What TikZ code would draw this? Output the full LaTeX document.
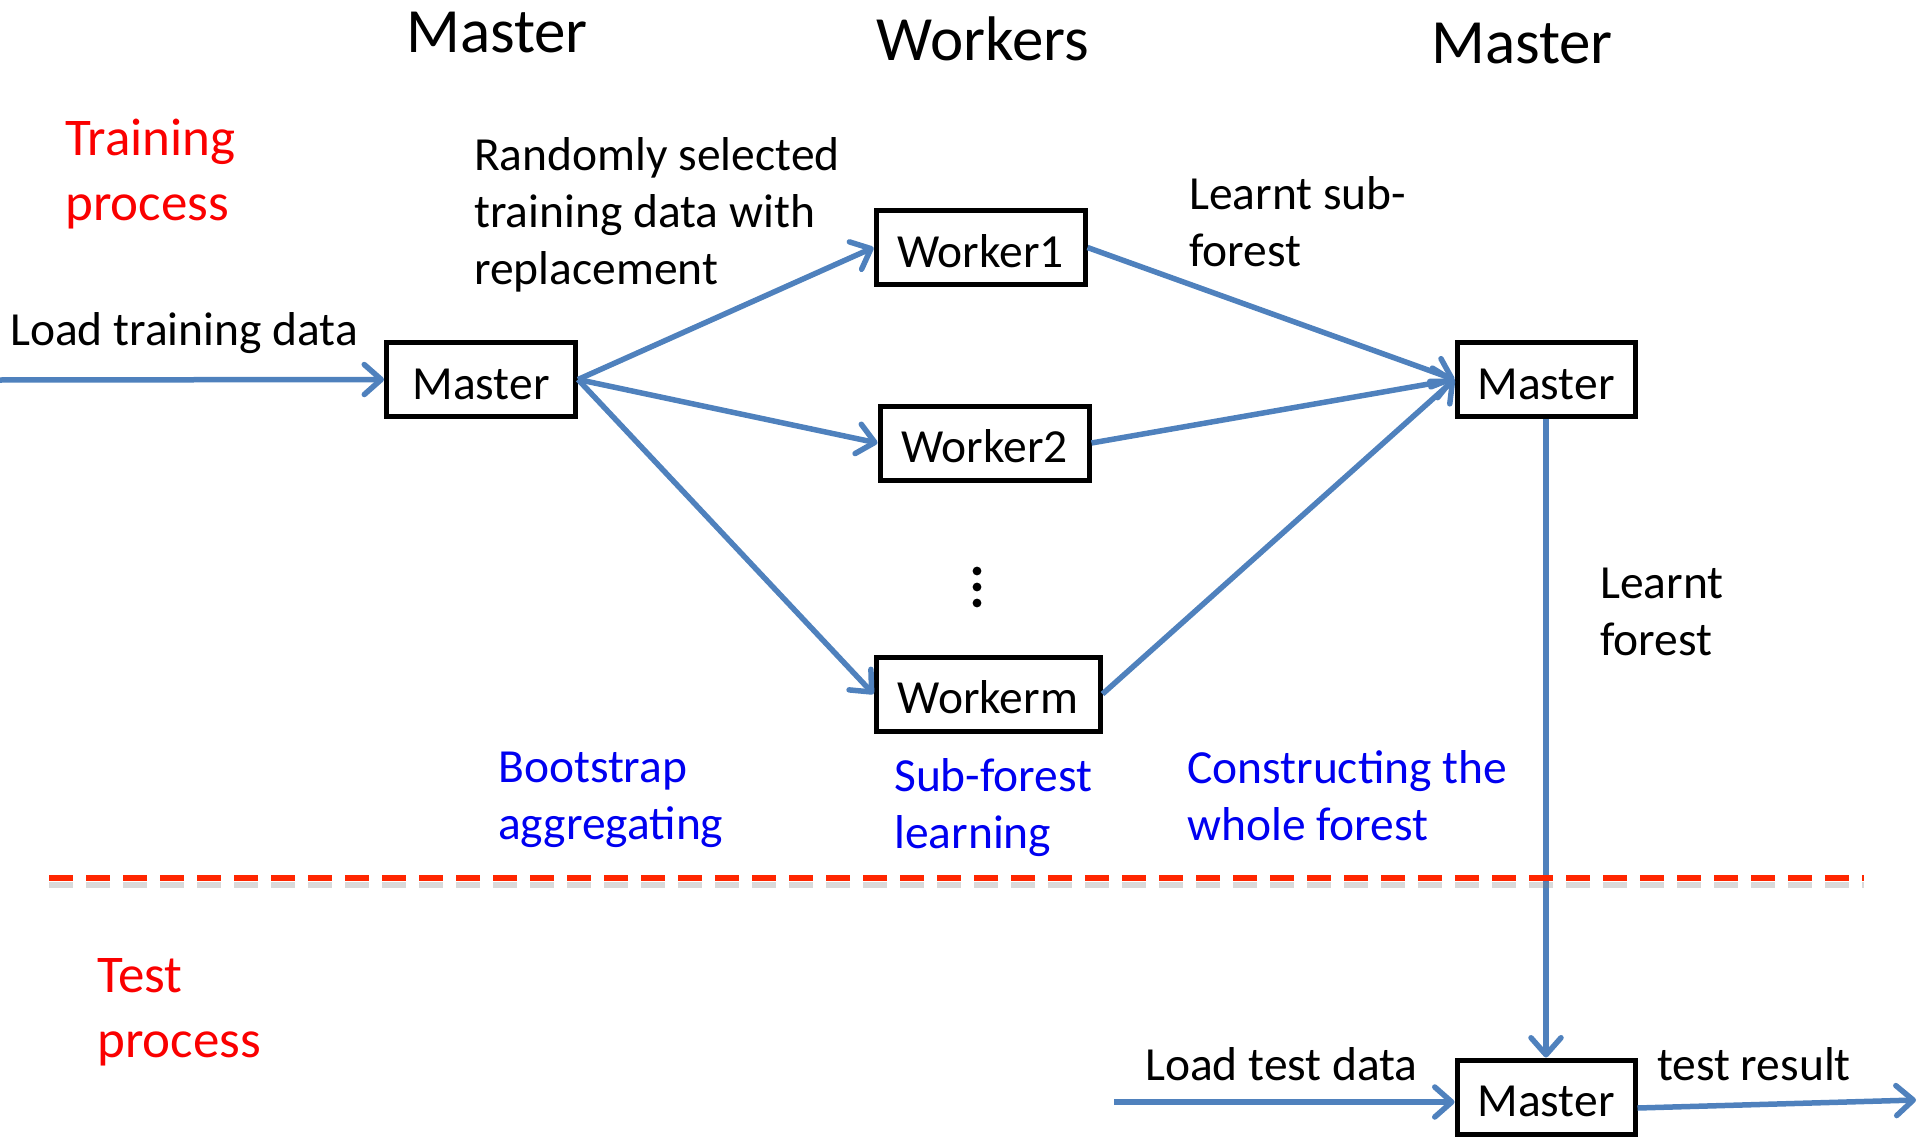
\documentclass[tikz,border=0pt]{standalone}
\usepackage{fontspec}
\setmainfont{Carlito}
\usetikzlibrary{arrows.meta}
\definecolor{flowblue}{RGB}{79,129,189}
\definecolor{dashred}{RGB}{255,38,0}
\definecolor{labelblue}{RGB}{0,0,240}
\definecolor{labelred}{RGB}{250,0,0}
\newcommand\txtbody{\fontsize{47.5}{57}\selectfont}
\newcommand\txthead{\fontsize{63}{75}\selectfont}
\newcommand\txtred{\fontsize{53}{65}\selectfont}

\begin{document}
\begin{tikzpicture}[x=1pt,y=-1pt,
  box/.style={draw=black, line width=5pt, minimum width=#1, minimum height=74pt,
    inner sep=0pt, font=\txtbody, text height=39pt, text depth=0pt},
  plain/.style={inner sep=0pt, align=left, font=\txtbody},
  headtext/.style={inner sep=0pt, font=\txthead},
  redlabel/.style={inner sep=0pt, align=left, font=\txtred, text=labelred},
  bluelabel/.style={inner sep=0pt, align=left, font=\txtbody, text=labelblue},
  flow/.style={draw=flowblue, line width=5.5pt,
    -{Straight Barb[length=17pt,width=30pt,round]}},
  dots/.style={fill=black}]
\useasboundingbox (0,0) rectangle (1920,1137);

% column headings
\node[headtext] (hm1) at (497,33) {Master};
\node[headtext] (hw)  at (983,39) {Workers};
\node[headtext] (hm2) at (1522,44) {Master};

% training stage
\node[box=189pt] (m1) at (481,379.5) {Master};
\node[box=209pt] (w1) at (980.5,247.5) {Worker1};
\node[box=209pt] (w2) at (984.5,443) {Worker2};
\node[box=224pt] (wm) at (988,694) {Workerm};
\node[box=178pt] (m2) at (1546,379.5) {Master};
\fill[dots] (977,571) circle (4.4) (977,587) circle (4.4) (977,603) circle (4.4);

% test stage
\node[box=178pt] (m3) at (1546,1097) {Master};

% labels
\node[redlabel, anchor=west] (train) at (65,174) {Training\\process};
\node[redlabel, anchor=west] (test) at (97,1012) {Test\\process};
\node[plain, anchor=west] (rand) at (474,215) {Randomly selected\\training data with\\replacement};
\node[plain, anchor=west] (ltd) at (10,333) {Load training data};
\node[plain, anchor=west] (lsf) at (1189,222) {Learnt sub-\\forest};
\node[plain, anchor=west] (lf) at (1600,612) {Learnt\\forest};
\node[bluelabel, anchor=west] (bag) at (498,800) {Bootstrap\\aggregating};
\node[bluelabel, anchor=west] (sfl) at (894,808) {Sub-forest\\learning};
\node[bluelabel, anchor=west] (cwf) at (1187,796) {Constructing the\\whole forest};
\node[plain, anchor=west] (ltest) at (1145,1064) {Load test data};
\node[plain, anchor=west] (tres) at (1657,1064) {test result};

% free ends of the outer connectors
\coordinate (trainin) at (0,380);
\coordinate (testin) at (1114,1102);
\coordinate (testout) at (1916,1100);

% connectors
\draw[flow] (trainin) -- (m1.west);
\draw[flow] (m1.east) -- (w1.west);
\draw[flow] (m1.east) -- (w2.west);
\draw[flow] (m1.east) -- (wm.west);
\draw[flow] (w1.east) -- (m2.west);
\draw[flow] (w2.east) -- (m2.west);
\draw[flow] (wm.east) -- (m2.west);
\draw[flow] (m2.south) -- (m3.north);
\draw[flow] (testin) -- (testin -| m3.west);
\draw[flow] ([yshift=-11pt]m3.east) -- (testout);

% separator between the two stages
\draw[gray, opacity=0.3, line width=6pt, dash pattern=on 24pt off 13pt] (49,885) -- (1864,885);
\draw[dashred, line width=6pt, dash pattern=on 24pt off 13pt] (49,878) -- (1864,878);
\end{tikzpicture}
\end{document}
